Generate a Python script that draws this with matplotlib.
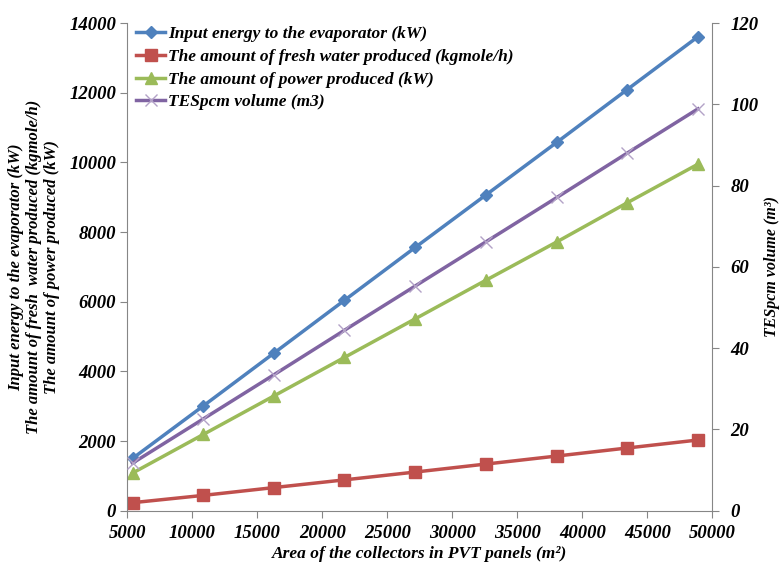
import matplotlib
matplotlib.use("Agg")
import matplotlib.pyplot as plt

# Area of the collectors (m2)
area = [5400, 10850, 16300, 21700, 27150, 32600, 38050, 43450, 48900]

# left axis series
input_energy = [1500, 3010, 4530, 6040, 7560, 9070, 10580, 12090, 13610]
fresh_water = [230, 440, 665, 885, 1110, 1340, 1570, 1800, 2030]
power = [1080, 2190, 3300, 4400, 5510, 6620, 7720, 8840, 9950]

# right axis series (m3)
tes_volume = [11.7, 22.6, 33.5, 44.4, 55.3, 66.2, 77.1, 88.0, 98.9]

x_ticks = list(range(5000, 50001, 5000))
left_ticks = list(range(0, 14001, 2000))
right_ticks = list(range(0, 121, 20))

plt.rcParams["font.family"] = ["Liberation Serif", "DejaVu Serif"]
font = dict(weight="bold", style="italic")
axis_grey = "#868686"

fig = plt.figure(figsize=(7.81, 5.65), dpi=100)
ax = fig.add_axes([0.163, 0.0961, 0.749, 0.863])
ax2 = ax.twinx()

l1, = ax.plot(area, input_energy, color="#4F81BD", lw=2.5, marker="D", ms=6.5,
              label="Input energy to the evaporator (kW)")
l2, = ax.plot(area, fresh_water, color="#C0504D", lw=2.5, marker="s", ms=8,
              label="The amount of fresh water produced (kgmole/h)")
l3, = ax.plot(area, power, color="#9BBB59", lw=2.5, marker="^", ms=8.5,
              label="The amount of power produced (kW)")
l4, = ax2.plot(area, tes_volume, color="#8064A2", lw=2.5, marker="x", ms=9,
               mew=1, mec="#B3A2C7", label="TESpcm volume (m3)")

ax.set_xlim(5000, 50000)
ax.set_ylim(0, 14000)
ax2.set_ylim(0, 120)
ax.set_xticks(x_ticks)
ax.set_yticks(left_ticks)
ax2.set_yticks(right_ticks)

for a in (ax, ax2):
    a.spines["top"].set_visible(False)
    for s in ("left", "right", "bottom"):
        a.spines[s].set_color(axis_grey)
    a.tick_params(direction="out", length=5, color=axis_grey, labelsize=13.5)
    for lab in a.get_xticklabels() + a.get_yticklabels():
        lab.set_fontweight("bold")
        lab.set_fontstyle("italic")
ax.spines["right"].set_visible(False)
ax2.spines["left"].set_visible(False)
ax2.spines["bottom"].set_visible(False)
ax.tick_params(axis="x", pad=5)
ax.tick_params(axis="y", pad=3)
ax2.tick_params(axis="y", pad=8)

ax.set_xlabel("Area of the collectors in PVT panels (m²)", fontsize=12.5, labelpad=3, **font)
ax.set_ylabel("Input energy to the evaporator (kW)\n"
              "The amount of fresh  water produced (kgmole/h)\n"
              "The amount of power produced (kW)",
              fontsize=12, linespacing=1.15, labelpad=7, **font)
ax2.set_ylabel("TESpcm volume (m³)", fontsize=11.5, labelpad=4, **font)

leg = ax.legend(handles=[l1, l2, l3, l4], loc="upper left", frameon=False,
                prop=dict(size=12.5, weight="bold", style="italic"),
                handlelength=1.7, handletextpad=0.15, labelspacing=0.38,
                borderaxespad=0.1, bbox_to_anchor=(0.0, 1.012))

fig.savefig("out.png", dpi=100)
